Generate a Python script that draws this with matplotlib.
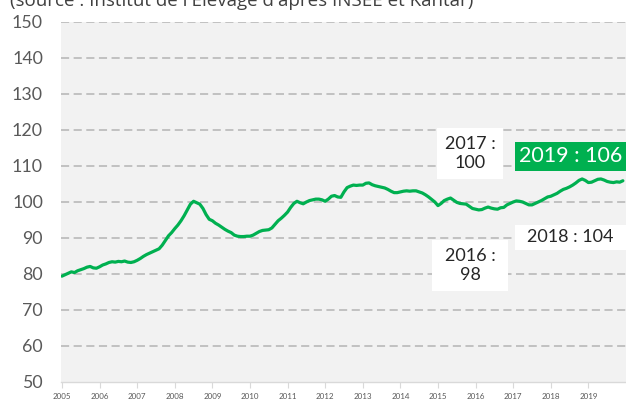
import matplotlib
matplotlib.use("Agg")
import matplotlib.pyplot as plt
from matplotlib.patches import Rectangle

# ---- data ----
years = ["2005", "2006", "2007", "2008", "2009", "2010", "2011", "2012",
         "2013", "2014", "2015", "2016", "2017", "2018", "2019"]
yticks = [50, 60, 70, 80, 90, 100, 110, 120, 130, 140, 150]

idx_2005 = [79.4, 79.8, 80.2, 80.6, 80.4, 80.9, 81.2, 81.5, 81.9, 82.1, 81.7, 81.6]
idx_2006 = [82.0, 82.5, 82.8, 83.2, 83.4, 83.3, 83.5, 83.4, 83.6, 83.3, 83.2, 83.4]
idx_2007 = [83.8, 84.3, 84.9, 85.4, 85.8, 86.2, 86.6, 87.0, 88.0, 89.3, 90.6, 91.5]
idx_2008 = [92.6, 93.6, 94.8, 96.2, 97.8, 99.4, 100.2, 99.8, 99.4, 98.2, 96.5, 95.2]
idx_2009 = [94.8, 94.1, 93.6, 93.0, 92.4, 91.9, 91.5, 90.8, 90.5, 90.4, 90.4, 90.5]
idx_2010 = [90.5, 90.8, 91.3, 91.8, 92.1, 92.2, 92.3, 92.8, 93.8, 94.8, 95.5, 96.3]
idx_2011 = [97.2, 98.5, 99.6, 100.2, 99.8, 99.5, 100.0, 100.4, 100.6, 100.8, 100.8, 100.6]
idx_2012 = [100.2, 100.8, 101.6, 101.8, 101.4, 101.3, 102.8, 104.0, 104.4, 104.7, 104.6, 104.7]
idx_2013 = [104.7, 105.2, 105.3, 104.8, 104.5, 104.3, 104.1, 103.9, 103.5, 103.0, 102.6, 102.6]
idx_2014 = [102.8, 103.0, 103.1, 103.0, 103.1, 103.1, 102.8, 102.5, 102.0, 101.4, 100.7, 100.0]
idx_2015 = [99.0, 99.6, 100.4, 100.8, 101.1, 100.5, 99.9, 99.6, 99.5, 99.4, 98.8, 98.2]
idx_2016 = [98.0, 97.8, 97.9, 98.3, 98.6, 98.3, 98.1, 98.0, 98.4, 98.5, 99.2, 99.6]
idx_2017 = [100.0, 100.3, 100.2, 100.0, 99.6, 99.2, 99.2, 99.6, 100.0, 100.4, 100.9, 101.4]
idx_2018 = [101.6, 102.0, 102.4, 103.0, 103.5, 103.8, 104.2, 104.7, 105.3, 106.0, 106.4, 106.0]
idx_2019 = [105.4, 105.5, 105.9, 106.3, 106.4, 106.1, 105.7, 105.5, 105.4, 105.6, 105.5, 105.9]

values = (idx_2005 + idx_2006 + idx_2007 + idx_2008 + idx_2009 + idx_2010 +
          idx_2011 + idx_2012 + idx_2013 + idx_2014 + idx_2015 + idx_2016 +
          idx_2017 + idx_2018 + idx_2019)
months = list(range(len(values)))

source_text = "(source : Institut de l'Elevage d'après INSEE et Kantar)"
labels_white = ["2017 :\n100", "2016 :\n98", "2018 : 104"]
label_green = "2019 : 106"

# ---- figure ----
W, H = 626, 401
fig = plt.figure(figsize=(W / 100, H / 100), dpi=100)
plt.rcParams['font.family'] = ['Lato', 'DejaVu Sans']

def fx(px):
    return px / W

def fy(py):
    return 1 - py / H

ax = fig.add_axes([fx(61), fy(382), fx(626 - 61), (382 - 22) / H])
ax.set_facecolor("#f2f2f2")
ax.set_xlim(-0.3, 180)
ax.set_ylim(50, 150)

for v in yticks[1:]:
    ax.axhline(v, color="#bdbdbd", lw=1.3, ls=(0, (4.5, 2.5)), zorder=1)

ax.plot(months, values, color="#00b050", lw=2.3, zorder=3, solid_capstyle="round")

for s in ["top", "right", "left"]:
    ax.spines[s].set_visible(False)
ax.spines["bottom"].set_color("#d9d9d9")
ax.spines["bottom"].set_linewidth(1.0)

ax.set_yticks(yticks)
ax.set_yticklabels([str(v) for v in yticks])
ax.tick_params(axis="y", length=0, pad=13, labelsize=12.8, labelcolor="#595959")

ax.set_xticks([12 * i for i in range(len(years))])
ax.set_xticklabels(years)
ax.tick_params(axis="x", length=4, width=0.8, color="#d9d9d9", pad=4,
               labelsize=5.8, labelcolor="#595959")

# source line (cut at the top edge, as in the original)
fig.text(fx(10), fy(6), source_text, fontsize=13.5, color="#404040",
         ha="left", va="baseline", family=["Open Sans", "DejaVu Sans"])

# annotation boxes
def box(x0, y0, x1, y1, text, fc, tc, fs):
    fig.patches.append(Rectangle((fx(x0), fy(y1)), fx(x1 - x0), (y1 - y0) / H,
                                 transform=fig.transFigure, facecolor=fc,
                                 edgecolor="none", zorder=5))
    fig.text(fx((x0 + x1) / 2), fy((y0 + y1) / 2), text, ha="center", va="center",
             color=tc, fontsize=fs, linespacing=1.3, zorder=6)

box(437, 128, 503, 179, labels_white[0], "white", "#262626", 13)
box(432, 240, 508, 291, labels_white[1], "white", "#262626", 13)
box(515, 225, 626, 250, labels_white[2], "white", "#262626", 13)
box(515, 142, 626, 171, label_green, "#00b050", "white", 15.5)

fig.savefig("out.png", dpi=100, facecolor="white")
